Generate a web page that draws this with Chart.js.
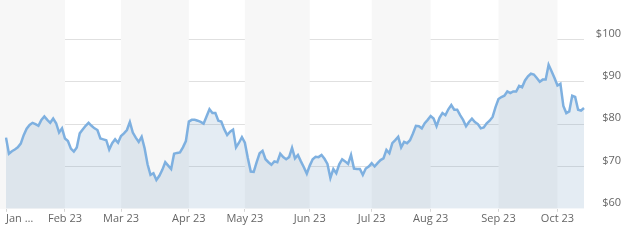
<!DOCTYPE html>
<html>
<head>
<meta charset="utf-8">
<script src="https://cdn.jsdelivr.net/npm/chart.js@4.4.1/dist/chart.umd.min.js"></script>
<style>
  html, body { margin: 0; padding: 0; background: #fff; }
  #wrap { width: 639px; height: 245px; }
</style>
</head>
<body>
<div id="wrap"><canvas id="priceChart"></canvas></div>
<script>
// months shown on the x axis and how many trading days each one has
var monthLabels = ['Jan …', 'Feb 23', 'Mar 23', 'Apr 23', 'May 23', 'Jun 23', 'Jul 23', 'Aug 23', 'Sep 23', 'Oct 23'];
var monthDays = [20, 19, 23, 19, 22, 21, 20, 23, 20, 10];

// daily close
var prices = [
  76.8, 73.0, 73.6, 74.0, 74.5, 75.4, 77.4, 78.9, 79.8, 80.3,
  80.0, 79.6, 81.0, 81.8, 81.0, 80.3, 81.3, 80.2, 78.0, 79.0,
  76.6, 76.0, 74.2, 73.5, 74.5, 77.8, 78.7, 79.6, 80.3, 79.6,
  79.0, 78.6, 76.6, 76.4, 76.2, 74.0, 75.5, 76.4, 75.6, 77.2,
  77.8, 78.6, 80.5, 78.0, 76.8, 75.8, 77.0, 74.3, 70.5, 68.0,
  68.4, 66.8, 67.8, 69.2, 71.0, 70.2, 69.4, 73.0, 73.2, 73.3,
  74.5, 76.0, 80.6, 81.0, 81.0, 80.8, 80.5, 80.1, 81.8, 83.5,
  82.6, 82.6, 80.8, 80.6, 78.8, 77.4, 78.2, 78.7, 74.5, 75.6,
  76.9, 75.6, 72.0, 68.8, 68.7, 71.0, 73.1, 73.7, 71.7, 71.0,
  70.4, 71.2, 71.0, 73.0, 72.2, 71.7, 72.2, 74.4, 71.9, 72.7,
  71.2, 69.8, 68.3, 70.2, 71.7, 72.3, 72.2, 72.7, 71.8, 70.6,
  67.3, 69.4, 68.4, 70.5, 71.7, 71.2, 70.6, 72.7, 69.5, 69.4,
  69.4, 68.0, 69.5, 70.0, 70.8, 70.0, 70.8, 71.5, 71.9, 73.9,
  73.1, 75.5, 76.2, 77.0, 74.5, 75.8, 75.5, 76.2, 77.8, 79.6,
  79.5, 79.0, 80.2, 81.0, 81.9, 81.3, 79.5, 81.5, 82.6, 82.1,
  83.5, 84.5, 83.4, 83.4, 82.1, 81.0, 79.5, 80.5, 81.3, 80.5,
  80.0, 79.0, 79.2, 80.2, 80.8, 81.7, 84.0, 85.9, 86.4, 86.7,
  87.7, 87.3, 87.7, 87.7, 89.0, 88.7, 90.3, 91.3, 91.9, 91.7,
  90.9, 90.0, 90.5, 90.5, 94.0, 92.5, 90.9, 89.1, 89.5, 84.3,
  82.6, 83.0, 86.7, 86.4, 83.4, 83.2, 83.8
];

var yTicks = [60, 70, 80, 90, 100];

// one category per trading day, the month label only on the first day
var labels = [];
var monthStarts = [];
for (var m = 0; m < monthLabels.length; m++) {
  monthStarts.push(labels.length);
  for (var d = 0; d < monthDays[m]; d++) {
    labels.push(d === 0 ? monthLabels[m] : '');
  }
}
var lastIndex = labels.length - 1;

// alternating grey month bands behind the line
var monthBands = {
  id: 'monthBands',
  beforeDatasetsDraw: function (chart) {
    var ctx = chart.ctx;
    var xs = chart.scales.x;
    var area = chart.chartArea;
    ctx.save();
    ctx.fillStyle = '#f7f7f7';
    for (var i = 0; i < monthStarts.length; i += 2) {
      var x0 = i === 0 ? 0 : xs.getPixelForValue(monthStarts[i]);
      var x1 = i + 1 < monthStarts.length ? xs.getPixelForValue(monthStarts[i + 1]) : area.right;
      ctx.fillRect(x0, 0, x1 - x0, area.bottom);
    }
    ctx.restore();
  }
};

var ctx = document.getElementById('priceChart').getContext('2d');
var priceChart = new Chart(ctx, {
  type: 'line',
  data: {
    labels: labels,
    datasets: [{
      data: prices,
      borderColor: '#7eb0e0',
      borderWidth: 2.5,
      backgroundColor: 'rgba(120, 160, 195, 0.2)',
      fill: 'start',
      pointRadius: 0,
      tension: 0
    }]
  },
  options: {
    responsive: true,
    maintainAspectRatio: false,
    animation: false,
    layout: { padding: { left: 6, right: 18, top: 0, bottom: 20 } },
    plugins: {
      legend: { display: false },
      tooltip: { enabled: false }
    },
    scales: {
      x: {
        border: { display: false },
        grid: {
          drawOnChartArea: false,
          tickLength: 3,
          tickColor: function (c) { return c.tick && c.tick.value === lastIndex ? 'rgba(0,0,0,0)' : '#d6d6d6'; }
        },
        afterBuildTicks: function (scale) {
          scale.ticks = monthStarts.concat([lastIndex]).map(function (v) { return { value: v }; });
        },
        ticks: {
          autoSkip: false,
          maxRotation: 0,
          align: 'inner',
          padding: 0,
          color: '#666',
          font: { family: '"Open Sans", sans-serif', size: 11 },
          callback: function (v) { return this.getLabelForValue(v); }
        }
      },
      y: {
        position: 'right',
        min: 60,
        max: 109.3,
        border: { display: false },
        afterBuildTicks: function (scale) {
          scale.ticks = yTicks.map(function (v) { return { value: v }; });
        },
        // let the plot run to the very top and bottom, fixed label column
        afterFit: function (scale) {
          scale.paddingTop = 0;
          scale.paddingBottom = 0;
          scale.width = 37;
        },
        grid: {
          drawTicks: false,
          color: function (c) { return c.tick && c.tick.value === 60 ? 'rgba(0,0,0,0)' : '#e0e0e0'; }
        },
        ticks: {
          padding: 13,
          crossAlign: 'far',
          labelOffset: -6,
          color: '#666',
          font: { family: '"Open Sans", sans-serif', size: 11 },
          callback: function (v) { return '$' + v; }
        }
      }
    }
  },
  plugins: [monthBands]
});
</script>
</body>
</html>
